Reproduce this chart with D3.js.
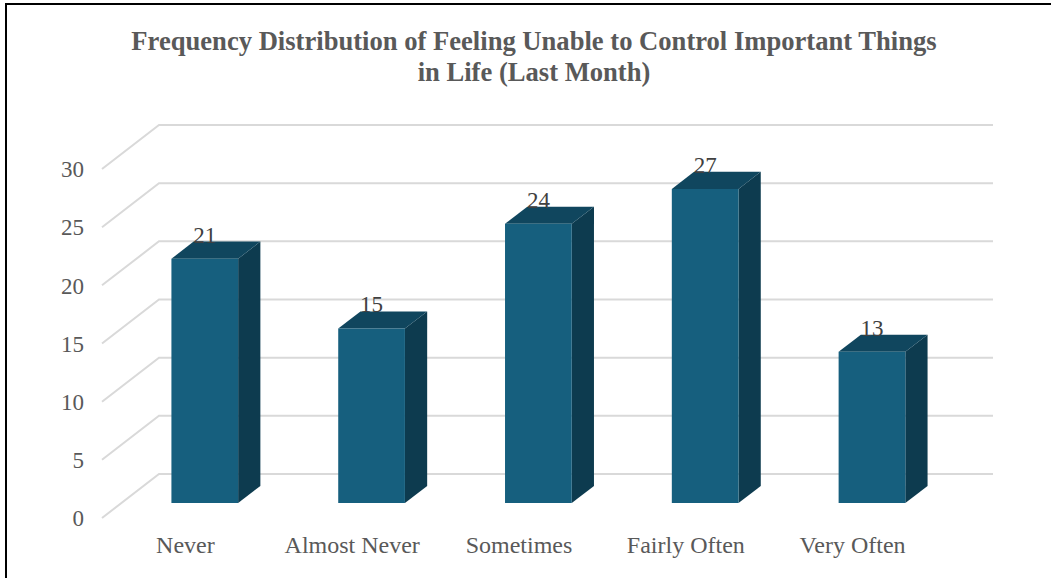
<!DOCTYPE html>
<html>
<head>
<meta charset="utf-8">
<script src="https://cdn.jsdelivr.net/npm/d3@7"></script>
<style>
  html, body { margin: 0; padding: 0; background: #fff; }
  svg { display: block; }
  svg text { font-family: "Liberation Serif", "Times New Roman", Times, serif; }
</style>
</head>
<body>
<svg id="chart" width="1051" height="578"></svg>
<script>
const categories = ["Never", "Almost Never", "Sometimes", "Fairly Often", "Very Often"];
const values = [21, 15, 24, 27, 13];
const tickValues = [0, 5, 10, 15, 20, 25, 30];
const titleLines = ["Frequency Distribution of Feeling Unable to Control Important Things", "in Life (Last Month)"];

const W = 1051, H = 578;
const svg = d3.select("#chart");
const font = '"Liberation Serif", "Times New Roman", Times, serif';

// frame
svg.append("rect").attr("x", 6).attr("y", 4).attr("width", W + 20).attr("height", H + 20)
  .attr("fill", "#fff").attr("stroke", "#000").attr("stroke-width", 2);

// oblique depth projection
const DX = 57, DY = -44;
const proj = (x, y, z) => [x + DX * z, y + DY * z];

const x = d3.scaleBand().domain(categories).range([102, 936]).padding(0);
const y = d3.scaleLinear().domain([0, 30]).range([518, 169]);

// gridlines
const grid = svg.append("g").attr("stroke", "#d9d9d9").attr("stroke-width", 2).attr("fill", "none");
tickValues.forEach(t => {
  const f = proj(x.range()[0], y(t), 0);
  const b = proj(x.range()[0], y(t), 1);
  const e = proj(x.range()[1], y(t), 1);
  grid.append("path").attr("d", d3.line()([f, b, e]));
});

// bars
const z0 = 0.34, z1 = 0.73;
const barW = x.bandwidth() * 0.4;
const colFront = "#165f7e", colTop = "#10465e", colSide = "#0d3b4f";
const bars = svg.append("g");
categories.forEach((c, i) => {
  const xc = x(c) + x.bandwidth() / 2;
  const xl = xc - barW / 2, xr = xc + barW / 2;
  const yt = y(values[i]), yb = y(0);
  const FTL = proj(xl, yt, z0), FTR = proj(xr, yt, z0), FBL = proj(xl, yb, z0), FBR = proj(xr, yb, z0);
  const BTL = proj(xl, yt, z1), BTR = proj(xr, yt, z1), BBR = proj(xr, yb, z1);
  const g = bars.append("g");
  g.append("path").attr("d", d3.line()([FTR, BTR, BBR, FBR]) + "Z").attr("fill", colSide);
  g.append("path").attr("d", d3.line()([FTL, FTR, BTR, BTL]) + "Z").attr("fill", colTop);
  g.append("path").attr("d", d3.line()([FTL, FTR, FBR, FBL]) + "Z").attr("fill", colFront);
  g.append("text")
    .attr("x", (FTL[0] + FTR[0]) / 2)
    .attr("y", BTL[1] + 1)
    .attr("text-anchor", "middle")
    .style("font-family", font).style("font-size", "23px").attr("fill", "#404040")
    .text(values[i]);
});

// y axis
const yAxisG = svg.append("g").attr("transform", "translate(84,0)")
  .call(d3.axisLeft(y).tickValues(tickValues).tickSize(0).tickPadding(0).tickFormat(d3.format("d")));
yAxisG.attr("font-family", null).attr("font-size", null);
yAxisG.select(".domain").remove();
yAxisG.selectAll("text").style("font-family", font).style("font-size", "23px").attr("fill", "#595959").attr("dy", "0.34em");

// x axis
const xAxisG = svg.append("g").attr("transform", "translate(0,553)")
  .call(d3.axisBottom(x).tickSize(0).tickPadding(0));
xAxisG.attr("font-family", null).attr("font-size", null);
xAxisG.select(".domain").remove();
xAxisG.selectAll("text").style("font-family", font).style("font-size", "24px").attr("fill", "#595959").attr("dy", "0");

// title
svg.append("text").attr("x", 534).attr("y", 50)
  .attr("text-anchor", "middle")
  .style("font-family", font).style("font-weight", "bold").style("font-size", "26.6px")
  .attr("fill", "#595959")
  .selectAll("tspan").data(titleLines).join("tspan")
  .attr("x", 534).attr("dy", (d, i) => i === 0 ? 0 : 31).text(d => d);
</script>
</body>
</html>
